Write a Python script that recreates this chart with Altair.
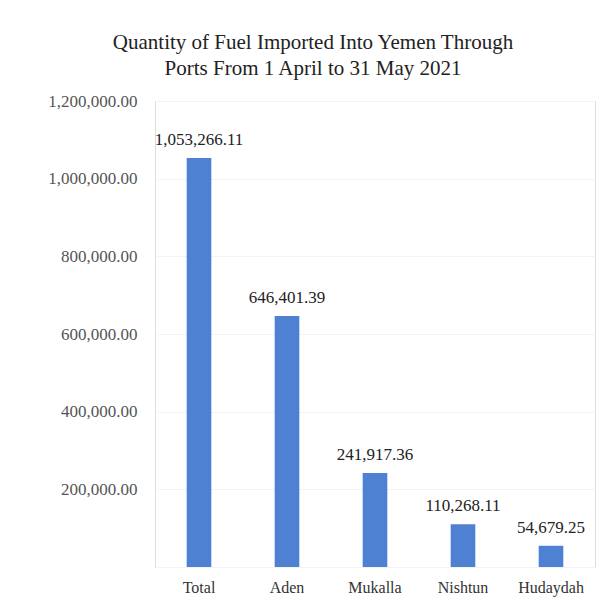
import altair as alt
import pandas as pd

ports = ["Total", "Aden", "Mukalla", "Nishtun", "Hudaydah"]
quantities = [1053266.11, 646401.39, 241917.36, 110268.11, 54679.25]
labels = ["1,053,266.11", "646,401.39", "241,917.36", "110,268.11", "54,679.25"]

df = pd.DataFrame({"port": ports, "qty": quantities, "label": labels})

FONT = "Liberation Serif"

base = alt.Chart(df).encode(
    x=alt.X("port:N", sort=ports, title=None,
            scale=alt.Scale(paddingInner=0.72, paddingOuter=0.36),
            axis=alt.Axis(labelAngle=0, labelFont=FONT, labelFontSize=16,
                          labelColor="#333", labelPadding=12, domain=False,
                          ticks=False)),
    y=alt.Y("qty:Q", title=None,
            scale=alt.Scale(domain=[0, 1200000]),
            axis=alt.Axis(values=[0, 200000, 400000, 600000, 800000, 1000000, 1200000],
                          labelExpr="datum.value == 0 ? '' : format(datum.value, ',.2f')",
                          labelFont=FONT, labelFontSize=17, labelColor="#555",
                          labelPadding=18, domain=False, ticks=False,
                          grid=True, gridColor="#f3f3f3")),
)

bars = base.mark_bar(color="#4f81d3")
text = base.mark_text(dy=-9, baseline="bottom", font=FONT, fontSize=17,
                      color="#222").encode(text="label:N")

chart = (bars + text).properties(
    width=440, height=466,
    title=alt.TitleParams(
        ["Quantity of Fuel Imported Into Yemen Through",
         "Ports From 1 April to 31 May 2021"],
        font=FONT, fontSize=21, fontWeight="normal", color="#222",
        anchor="middle", dx=-62, offset=13, lineHeight=26),
    autosize=alt.AutoSizeParams(type="none"),
    padding={"left": 147, "top": 93, "right": 5, "bottom": 34},
).configure_view(stroke=None).configure(background="white")

chart.save("out.html", embed_options={"renderer": "svg", "actions": False})
